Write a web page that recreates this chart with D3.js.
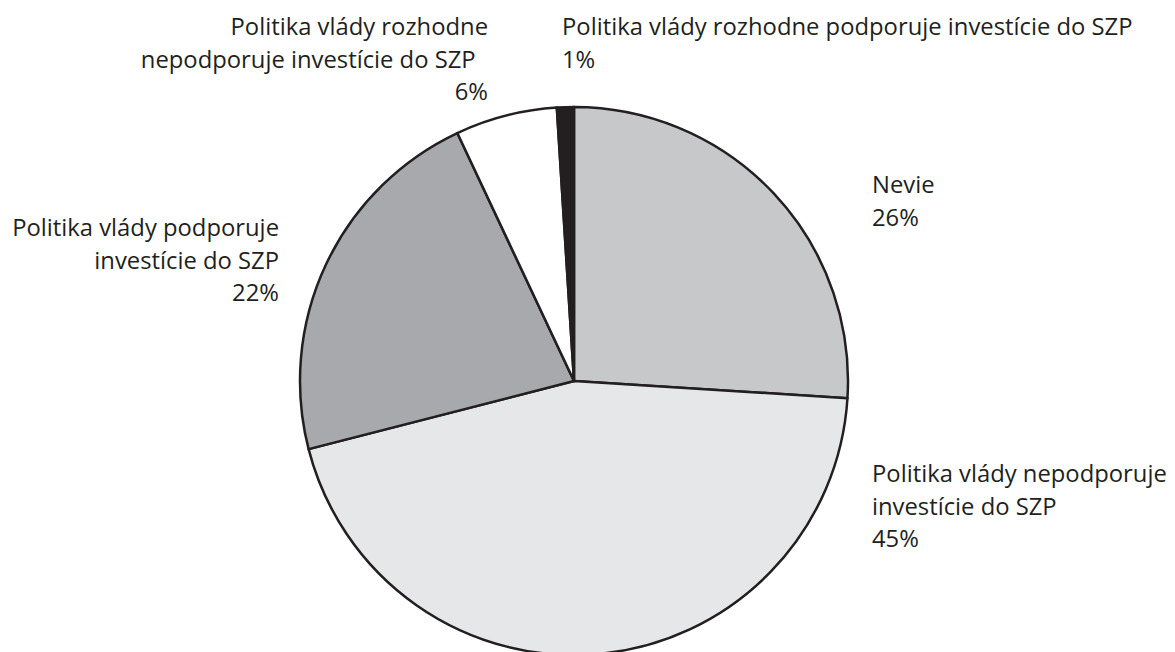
<!DOCTYPE html>
<html>
<head>
<meta charset="utf-8">
<script src="https://cdn.jsdelivr.net/npm/d3@7"></script>
<style>
  html, body { margin: 0; padding: 0; background: #ffffff; }
  svg { display: block; }
  text { font-family: "Open Sans", "Noto Sans", sans-serif; fill: #231f20; }
</style>
</head>
<body>
<svg id="chart" width="1175" height="652"></svg>
<script>
// ---- data ----
const categories = [
  "Nevie",
  "Politika vlády nepodporuje\ninvestície do SZP",
  "Politika vlády podporuje\ninvestície do SZP",
  "Politika vlády rozhodne\nnepodporuje investície do SZP\u00a0\u00a0",
  "Politika vlády rozhodne podporuje investície do SZP"
];
const values = [26, 45, 22, 6, 1];
const percentLabels = ["26%", "45%", "22%", "6%", "1%"];

// ---- styling / layout ----
const colors = ["#c7c8ca", "#e6e7e8", "#a7a9ac", "#ffffff", "#231f20"];
const labelLayout = [
  { x: 872, y: 193, anchor: "start" },
  { x: 872, y: 482, anchor: "start" },
  { x: 279, y: 236, anchor: "end" },
  { x: 488, y: 35, anchor: "end" },
  { x: 562, y: 35, anchor: "start" }
];
const cx = 574, cy = 381, radius = 274;
const lineHeight = 32.5;

const svg = d3.select("#chart");

// font size calibrated to reference label width
const probe = svg.append("text").style("font-size", "20px")
  .text("Politika vlády rozhodne podporuje investície do SZP");
const w20 = probe.node().getComputedTextLength();
probe.remove();
const fontSize = 20 * 571 / w20;

const data = categories.map((c, i) => ({ name: c, value: values[i], pct: percentLabels[i], color: colors[i], layout: labelLayout[i] }));

const pie = d3.pie().sort(null).value(d => d.value).startAngle(0).endAngle(2 * Math.PI);
const arc = d3.arc().innerRadius(0).outerRadius(radius);

const g = svg.append("g").attr("transform", `translate(${cx},${cy})`);
g.selectAll("path")
  .data(pie(data))
  .join("path")
  .attr("d", arc)
  .attr("fill", d => d.data.color)
  .attr("stroke", "#231f20")
  .attr("stroke-width", 2.5)
  .attr("stroke-linejoin", "round");

const labels = svg.selectAll("text.lbl")
  .data(data)
  .join("text")
  .attr("class", "lbl")
  .attr("text-anchor", d => d.layout.anchor)
  .style("font-size", fontSize + "px");

labels.each(function(d) {
  const lines = d.name.split("\n").concat([d.pct]);
  d3.select(this).selectAll("tspan")
    .data(lines)
    .join("tspan")
    .attr("x", d.layout.x)
    .attr("y", (l, i) => d.layout.y + i * lineHeight)
    .text(l => l);
});
</script>
</body>
</html>
